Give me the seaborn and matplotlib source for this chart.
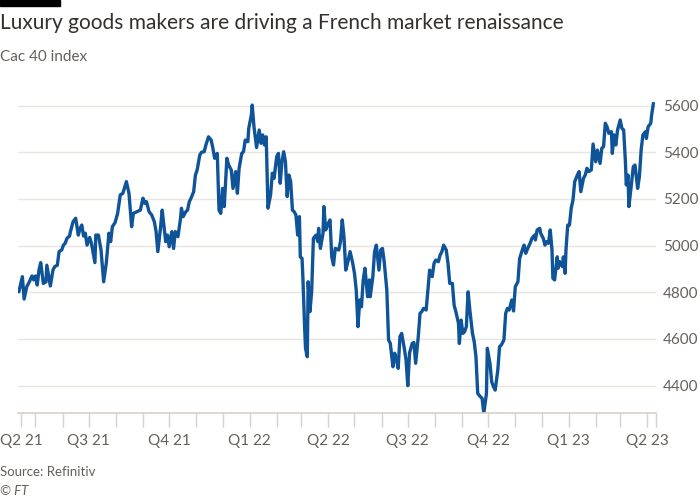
import pandas as pd
import matplotlib
matplotlib.use("Agg")
import matplotlib.pyplot as plt
from matplotlib.patches import Rectangle
import seaborn as sns

# Cac 40 readings taken off the reference chart
dates = [
    "2021-04-12", "2021-04-16", "2021-04-18", "2021-04-21", "2021-04-24", "2021-04-27", "2021-04-29",
    "2021-05-01", "2021-05-03", "2021-05-05", "2021-05-07", "2021-05-10", "2021-05-13", "2021-05-14",
    "2021-05-18", "2021-05-21", "2021-05-23", "2021-05-26", "2021-05-28", "2021-05-31", "2021-06-02",
    "2021-06-04", "2021-06-06", "2021-06-09", "2021-06-10", "2021-06-13", "2021-06-16", "2021-06-19",
    "2021-06-21", "2021-06-23", "2021-06-25", "2021-06-27", "2021-06-29", "2021-07-02", "2021-07-04",
    "2021-07-08", "2021-07-09", "2021-07-12", "2021-07-15", "2021-07-18", "2021-07-21", "2021-07-24",
    "2021-07-26", "2021-07-28", "2021-07-31", "2021-08-03", "2021-08-06", "2021-08-09", "2021-08-13",
    "2021-08-16", "2021-08-19", "2021-08-21", "2021-08-25", "2021-08-29", "2021-09-01", "2021-09-03",
    "2021-09-05", "2021-09-08", "2021-09-11", "2021-09-14", "2021-09-16", "2021-09-18", "2021-09-21",
    "2021-09-23", "2021-09-24", "2021-09-27", "2021-09-29", "2021-10-01", "2021-10-04", "2021-10-06",
    "2021-10-08", "2021-10-11", "2021-10-14", "2021-10-15", "2021-10-17", "2021-10-20", "2021-10-22",
    "2021-10-24", "2021-10-26", "2021-10-29", "2021-10-31", "2021-11-02", "2021-11-05", "2021-11-07",
    "2021-11-10", "2021-11-12", "2021-11-15", "2021-11-18", "2021-11-20", "2021-11-22", "2021-11-25",
    "2021-11-27", "2021-11-29", "2021-12-01", "2021-12-03", "2021-12-06", "2021-12-08", "2021-12-11",
    "2021-12-13", "2021-12-16", "2021-12-18", "2021-12-20", "2021-12-23", "2021-12-25", "2021-12-27",
    "2021-12-30", "2021-12-31", "2022-01-03", "2022-01-04", "2022-01-06", "2022-01-09", "2022-01-12",
    "2022-01-14", "2022-01-16", "2022-01-18", "2022-01-20", "2022-01-22", "2022-01-25", "2022-01-27",
    "2022-01-29", "2022-02-01", "2022-02-03", "2022-02-05", "2022-02-07", "2022-02-09", "2022-02-11",
    "2022-02-13", "2022-02-15", "2022-02-17", "2022-02-19", "2022-02-21", "2022-02-23", "2022-02-25",
    "2022-02-27", "2022-02-28", "2022-03-02", "2022-03-03", "2022-03-05", "2022-03-06", "2022-03-08",
    "2022-03-09", "2022-03-11", "2022-03-13", "2022-03-15", "2022-03-18", "2022-03-20", "2022-03-21",
    "2022-03-23", "2022-03-26", "2022-03-27", "2022-03-29", "2022-04-01", "2022-04-03", "2022-04-05",
    "2022-04-07", "2022-04-09", "2022-04-13", "2022-04-15", "2022-04-17", "2022-04-19", "2022-04-21",
    "2022-04-23", "2022-04-26", "2022-04-29", "2022-05-01", "2022-05-03", "2022-05-05", "2022-05-07",
    "2022-05-09", "2022-05-11", "2022-05-13", "2022-05-16", "2022-05-18", "2022-05-19", "2022-05-22",
    "2022-05-24", "2022-05-26", "2022-05-29", "2022-05-31", "2022-06-02", "2022-06-04", "2022-06-07",
    "2022-06-09", "2022-06-11", "2022-06-14", "2022-06-16", "2022-06-18", "2022-06-20", "2022-06-22",
    "2022-06-24", "2022-06-27", "2022-06-29", "2022-07-01", "2022-07-03", "2022-07-06", "2022-07-08",
    "2022-07-10", "2022-07-13", "2022-07-15", "2022-07-17", "2022-07-19", "2022-07-22", "2022-07-24",
    "2022-07-26", "2022-07-29", "2022-07-31", "2022-08-02", "2022-08-05", "2022-08-07", "2022-08-09",
    "2022-08-11", "2022-08-14", "2022-08-16", "2022-08-18", "2022-08-21", "2022-08-23", "2022-08-25",
    "2022-08-28", "2022-08-29", "2022-08-31", "2022-09-02", "2022-09-04", "2022-09-06", "2022-09-08",
    "2022-09-10", "2022-09-13", "2022-09-15", "2022-09-17", "2022-09-19", "2022-09-22", "2022-09-24",
    "2022-09-26", "2022-09-29", "2022-09-30", "2022-10-03", "2022-10-05", "2022-10-07", "2022-10-09",
    "2022-10-12", "2022-10-14", "2022-10-16", "2022-10-19", "2022-10-21", "2022-10-23", "2022-10-25",
    "2022-10-28", "2022-10-30", "2022-11-01", "2022-11-04", "2022-11-06", "2022-11-09", "2022-11-11",
    "2022-11-13", "2022-11-16", "2022-11-18", "2022-11-20", "2022-11-23", "2022-11-24", "2022-11-26",
    "2022-11-29", "2022-11-30", "2022-12-03", "2022-12-05", "2022-12-07", "2022-12-09", "2022-12-11",
    "2022-12-13", "2022-12-14", "2022-12-16", "2022-12-19", "2022-12-20", "2022-12-22", "2022-12-25",
    "2022-12-26", "2022-12-28", "2022-12-29", "2022-12-31", "2023-01-02", "2023-01-04", "2023-01-06",
    "2023-01-08", "2023-01-11", "2023-01-13", "2023-01-15", "2023-01-18", "2023-01-20", "2023-01-22",
    "2023-01-24", "2023-01-27", "2023-01-29", "2023-02-01", "2023-02-03", "2023-02-06", "2023-02-08",
    "2023-02-10", "2023-02-12", "2023-02-14", "2023-02-16", "2023-02-19", "2023-02-20", "2023-02-22",
    "2023-02-24", "2023-02-26", "2023-03-01", "2023-03-03", "2023-03-05", "2023-03-07", "2023-03-08",
    "2023-03-10", "2023-03-11", "2023-03-13", "2023-03-14", "2023-03-16", "2023-03-18", "2023-03-21",
    "2023-03-23", "2023-03-25", "2023-03-27", "2023-03-30", "2023-03-31", "2023-04-02", "2023-04-05",
    "2023-04-06", "2023-04-08",
]
cac40 = [
    4802, 4867, 4771, 4824, 4845, 4870, 4853,
    4870, 4831, 4895, 4927, 4838, 4845, 4916,
    4827, 4895, 4910, 4916, 4974, 4981, 5002,
    5010, 5031, 5041, 5060, 5102, 5117, 5045,
    5074, 5088, 5041, 5053, 5002, 5035, 5010,
    4927, 5045, 5045, 4981, 4845, 4925, 5053,
    5017, 5081, 5098, 5138, 5217, 5224, 5274,
    5224, 5081, 5138, 5145, 5152, 5203, 5181,
    5188, 5145, 5131, 5102, 5060, 4974, 5074,
    5152, 5117, 5017, 5045, 4995, 5060, 4988,
    5060, 5038, 5117, 5160, 5124, 5145, 5152,
    5188, 5203, 5231, 5302, 5324, 5388, 5400,
    5402, 5431, 5466, 5452, 5417, 5374, 5395,
    5152, 5138, 5245, 5167, 5374, 5345, 5324,
    5245, 5317, 5224, 5331, 5395, 5402, 5452,
    5445, 5502, 5559, 5602, 5509, 5420, 5495,
    5438, 5474, 5431, 5466, 5160, 5217, 5310,
    5288, 5381, 5395, 5267, 5359, 5402, 5359,
    5210, 5302, 5274, 5152, 5145, 5131, 5045,
    5124, 4952, 4945, 4860, 4646, 4560, 4524,
    4845, 4717, 4802, 5031, 5045, 5017, 5074,
    4988, 5053, 5167, 5067, 5095, 5110, 4952,
    4917, 4988, 4981, 5017, 5110, 5038, 4895,
    4924, 4974, 4924, 4881, 4810, 4653, 4767,
    4738, 4853, 4903, 4781, 4853, 4781, 4867,
    4974, 5002, 4895, 4981, 4988, 4931, 4810,
    4596, 4581, 4481, 4539, 4510, 4474, 4610,
    4624, 4560, 4510, 4400, 4540, 4581, 4585,
    4496, 4610, 4710, 4717, 4731, 4724, 4810,
    4895, 4867, 4924, 4938, 4931, 4960, 4974,
    5002, 4981, 4924, 4838, 4838, 4745, 4717,
    4667, 4581, 4681, 4624, 4631, 4653, 4802,
    4724, 4624, 4588, 4524, 4367, 4353, 4346,
    4282, 4367, 4560, 4496, 4417, 4396, 4381,
    4467, 4567, 4574, 4596, 4710, 4731, 4724,
    4767, 4720, 4824, 4845, 4945, 4981, 5002,
    4967, 4995, 5010, 5031, 5045, 5024, 5067,
    5074, 5053, 5031, 5002, 5017, 5010, 5067,
    4981, 4860, 4853, 4952, 4903, 4931, 4910,
    4952, 4881, 4981, 5088, 5088, 5160, 5195,
    5274, 5302, 5317, 5231, 5288, 5302, 5331,
    5317, 5324, 5435, 5359, 5409, 5352, 5417,
    5424, 5524, 5509, 5481, 5488, 5395, 5474,
    5431, 5495, 5538, 5502, 5495, 5359, 5260,
    5302, 5167, 5231, 5267, 5338, 5345, 5245,
    5295, 5409, 5474, 5488, 5459, 5509, 5524,
    5559, 5609,
]

quarter_dates = ["2021-04-15", "2021-07-01", "2021-10-01", "2022-01-01", "2022-04-01",
                 "2022-07-01", "2022-10-01", "2023-01-01", "2023-04-01"]
quarter_labels = ["Q2 21", "Q3 21", "Q4 21", "Q1 22", "Q2 22", "Q3 22", "Q4 22", "Q1 23", "Q2 23"]
y_ticks = [4400, 4600, 4800, 5000, 5200, 5400, 5600]

df = pd.DataFrame({"date": pd.to_datetime(dates), "cac": cac40})

sns.set_theme(style="white")
plt.rcParams["font.family"] = ["Lato", "DejaVu Sans"]

grey = "#66605c"
fig = plt.figure(figsize=(7, 5), dpi=100)
ax = fig.add_axes([18 / 700, 87 / 500, 638 / 700, 318 / 500])

sns.lineplot(data=df, x="date", y="cac", ax=ax, color="#0f5499", linewidth=2.4)

start, end = pd.Timestamp("2021-04-11"), pd.Timestamp("2023-04-11")
ax.set_xlim(start, end)
ax.set_ylim(4283, 5645)

ax.set_axisbelow(True)
ax.yaxis.tick_right()
ax.set_yticks(y_ticks)
ax.grid(axis="y", color="#ebe5df", linewidth=1)
ax.tick_params(axis="y", length=0, pad=5, labelsize=11, labelcolor=grey)

months = list(pd.date_range("2021-05-01", "2023-04-01", freq="MS")) + [end]
ax.set_xticks(pd.to_datetime(quarter_dates))
ax.set_xticklabels(quarter_labels)
ax.set_xticks(months, minor=True)
ax.tick_params(axis="x", which="both", bottom=True, length=10, width=1, color="#d8d1ca",
               labelsize=11, labelcolor=grey, pad=5)

for side in ["top", "left", "right"]:
    ax.spines[side].set_visible(False)
ax.spines["bottom"].set_color("#d8d1ca")
ax.set_xlabel("")
ax.set_ylabel("")

fig.patches.append(Rectangle((0, 0.989), 60 / 700, 0.011, transform=fig.transFigure,
                             color="black", zorder=5))
fig.text(0, 0.954, "Luxury goods makers are driving a French market renaissance",
         fontsize=15, color="#33302e", va="center", ha="left")
fig.text(0, 0.886, "Cac 40 index", fontsize=11, color=grey, va="center", ha="left")
fig.text(0, 0.056, "Source: Refinitiv", fontsize=9.5, color=grey, va="center", ha="left")
fig.text(0, 0.018, "© FT", fontsize=9.5, color=grey, va="center", ha="left", style="italic")

fig.savefig("out.png", dpi=100)
plt.close(fig)
